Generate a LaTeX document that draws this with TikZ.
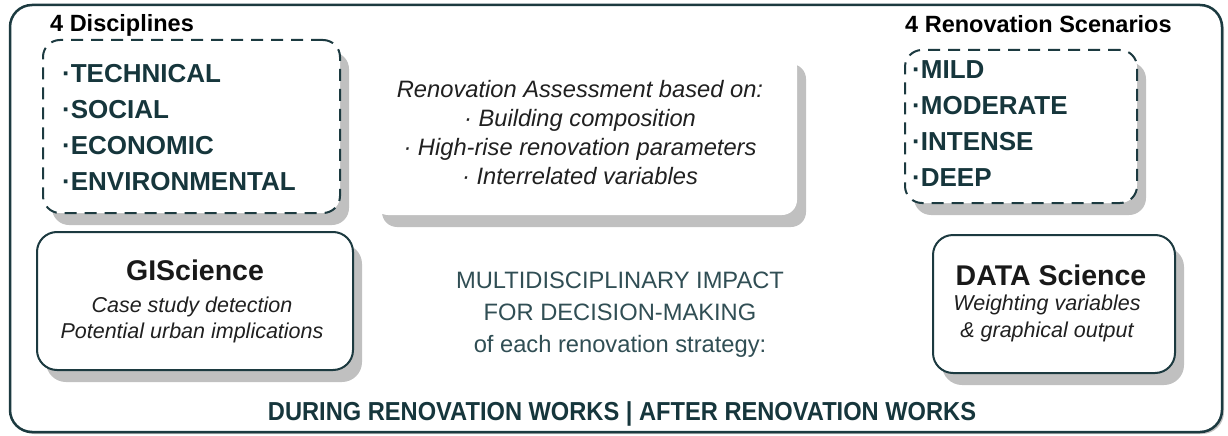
\documentclass[tikz,border=0pt]{standalone}
\usepackage{fontspec}
\setmainfont{Liberation Sans}
\newfontfamily\condensedsans[FakeStretch=0.91]{Liberation Sans}
\usetikzlibrary{shadows}
\definecolor{framecol}{RGB}{28,58,64}
\definecolor{listcol}{RGB}{22,54,60}
\definecolor{impactcol}{RGB}{48,78,84}
\definecolor{bodycol}{RGB}{32,32,32}
\definecolor{shadowcol}{RGB}{192,192,192}

\begin{document}
\begin{tikzpicture}[x=1pt,y=-1pt,
  boxshadow/.style={drop shadow={shadow xshift=9pt,shadow yshift=-12pt,fill=shadowcol,opacity=1}},
  solidpanel/.style={rounded corners=20pt,draw=framecol,line width=2pt,fill=white,inner sep=0pt,boxshadow},
  dashpanel/.style={rounded corners=17pt,draw=framecol,line width=2pt,dash pattern=on 12pt off 8pt,fill=white,inner sep=0pt,boxshadow},
  plainpanel/.style={rounded corners=15pt,fill=white,inner sep=0pt,boxshadow},
  heading/.style={font=\fontsize{23.5}{28}\selectfont\bfseries,text=black,anchor=base west,inner sep=0pt},
  item/.style={font=\fontsize{26}{30}\selectfont\bfseries,text=listcol,anchor=base west,inner sep=0pt},
  boxtitle/.style={font=\fontsize{28.5}{34}\selectfont\bfseries,text=black!90,anchor=base,inner sep=0pt},
  note/.style={font=\fontsize{21.5}{26}\selectfont\itshape,text=bodycol,anchor=base,inner sep=0pt},
  assess/.style={font=\fontsize{23.7}{28}\selectfont\itshape,text=bodycol,anchor=base,inner sep=0pt},
  impact/.style={font=\fontsize{23.7}{28}\selectfont,text=impactcol,anchor=base,inner sep=0pt},
  phase/.style={font=\condensedsans\fontsize{26}{30}\selectfont\bfseries,text=listcol,anchor=base,inner sep=0pt}
]
\useasboundingbox (0,0) rectangle (1228,436);

% outer frame
\node[rounded corners=22pt,draw=framecol,line width=2.5pt,fill=white,inner sep=0pt,
      minimum width=1212pt,minimum height=427pt,
      drop shadow={shadow xshift=2pt,shadow yshift=-2pt,fill=shadowcol,opacity=1}] (frame) at (616,218.5) {};

% panels
\node[dashpanel,minimum width=297pt,minimum height=173pt] (disc) at (191.5,126.5) {};
\node[plainpanel,minimum width=424pt,minimum height=163pt] (assessbox) at (585,133.5) {};
\node[dashpanel,minimum width=232pt,minimum height=153pt] (scen) at (1021,126.5) {};
\node[solidpanel,minimum width=316pt,minimum height=138pt] (gis) at (195,301) {};
\node[solidpanel,minimum width=242pt,minimum height=138pt] (data) at (1054,304) {};

% headings
\node[heading] (hdisc) at (50,32) {4 Disciplines};
\node[heading] (hscen) at (905,33) {4 Renovation Scenarios};

% lists
\foreach \t [count=\i] in {TECHNICAL,SOCIAL,ECONOMIC,ENVIRONMENTAL}
  \node[item] (d\i) at (62,46+36*\i) {·\t};
\foreach \t [count=\i] in {MILD,MODERATE,INTENSE,DEEP}
  \node[item] (s\i) at (912,42+36*\i) {·\t};

% assessment text
\node[assess] (a1) at (580,97)  {Renovation Assessment based on:};
\node[assess] (a2) at (580,126) {· Building composition};
\node[assess] (a3) at (580,155) {· High-rise renovation parameters};
\node[assess] (a4) at (580,184) {· Interrelated variables};

% GIScience
\node[boxtitle] (gist) at (195,280) {GIScience};
\node[note] (gis1) at (192,312) {Case study detection};
\node[note] (gis2) at (192,338) {Potential urban implications};

% DATA Science
\node[boxtitle] (datat) at (1051,285) {DATA Science};
\node[note] (data1) at (1047,310) {Weighting variables};
\node[note] (data2) at (1047,337) {\& graphical output};

% impact
\node[impact] (i1) at (620,288) {MULTIDISCIPLINARY IMPACT};
\node[impact] (i2) at (620,320) {FOR DECISION-MAKING};
\node[impact] (i3) at (620,352) {of each renovation strategy:};

% phases
\node[phase] (ph) at (622,420) {DURING RENOVATION WORKS | AFTER RENOVATION WORKS};
\end{tikzpicture}
\end{document}
